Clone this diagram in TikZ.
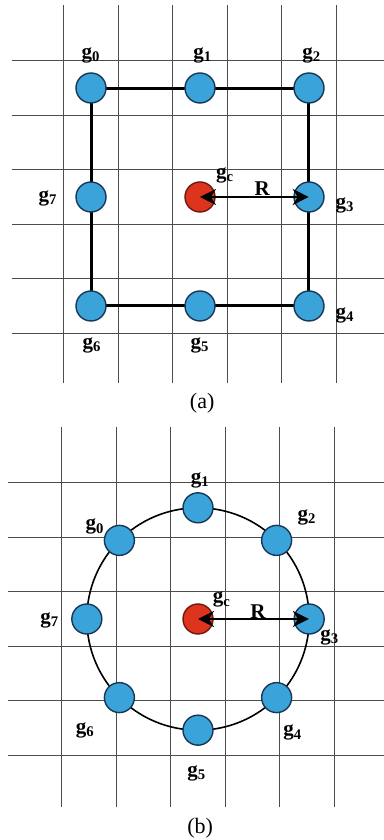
\documentclass[tikz,border=0pt]{standalone}
\usepackage{fontspec}
\setmainfont{Liberation Serif}
\usetikzlibrary{arrows.meta, backgrounds}

\definecolor{gblue}{RGB}{58,163,218}
\definecolor{gblueline}{RGB}{25,55,85}
\definecolor{cred}{RGB}{222,52,30}
\definecolor{credline}{RGB}{110,25,15}

\begin{document}
\begin{tikzpicture}[
    x=0.5pt, y=0.5pt,
    font=\fontsize{10}{12}\selectfont,
    % Node styles
    gpoint/.style={
        circle, draw=gblueline, fill=gblue,
        line width=0.7pt, minimum size=15pt, inner sep=0pt
    },
    cpoint/.style={
        circle, draw=credline, fill=cred,
        line width=0.7pt, minimum size=15pt, inner sep=0pt
    },
    gridline/.style={draw=black!70, line width=0.5pt},
    squareedge/.style={line width=1.3pt},
    ringedge/.style={line width=0.8pt},
    radarrow/.style={
        {Stealth[length=8pt, width=8pt]}-{Stealth[length=8pt, width=8pt]},
        line width=1.4pt
    },
    glbl/.style={font=\fontsize{10.5}{12}\selectfont\bfseries, inner sep=0pt},
    caplbl/.style={font=\fontsize{11}{13}\selectfont, inner sep=0pt},
]

\useasboundingbox (0,0) rectangle (384,840);

%% ---- PANEL (a): square of grid points ----
\begin{scope}[shift={(200,643)}, scale=54.5]
  \node[cpoint] (ac) at (0,0)   {};
  \node[gpoint] (a0) at (-2,2)  {};
  \node[gpoint] (a1) at (0,2)   {};
  \node[gpoint] (a2) at (2,2)   {};
  \node[gpoint] (a3) at (2,0)   {};
  \node[gpoint] (a4) at (2,-2)  {};
  \node[gpoint] (a5) at (0,-2)  {};
  \node[gpoint] (a6) at (-2,-2) {};
  \node[gpoint] (a7) at (-2,0)  {};

  \begin{scope}[on background layer]
    \foreach \k in {-2.5,-1.5,...,2.5} {
      \draw[gridline] (\k,-3.41) -- (\k,3.52);
      \draw[gridline] (-3.45,\k) -- (3.38,\k);
    }
    \draw[squareedge] (a0.center) -- (a1.center) -- (a2.center) -- (a3.center)
        -- (a4.center) -- (a5.center) -- (a6.center) -- (a7.center) -- (a0.center);
  \end{scope}

  % labels
  \node[glbl] (a0lbl) at (-2,2.6)      {g\textsubscript{0}};
  \node[glbl] (a1lbl) at (0.05,2.6)    {g\textsubscript{1}};
  \node[glbl] (a2lbl) at (2.05,2.6)    {g\textsubscript{2}};
  \node[glbl] (a3lbl) at (2.66,-0.15)  {g\textsubscript{3}};
  \node[glbl] (a4lbl) at (2.66,-2.17)  {g\textsubscript{4}};
  \node[glbl] (a5lbl) at (0,-2.72)     {g\textsubscript{5}};
  \node[glbl] (a6lbl) at (-1.98,-2.72) {g\textsubscript{6}};
  \node[glbl] (a7lbl) at (-2.79,-0.02) {g\textsubscript{7}};
  \node[glbl] (aclbl) at (0.46,0.4)    {g\textsubscript{c}};

  % radius
  \draw[radarrow] (ac.center) -- (a3.center);
  \node[glbl] (ar) at (1.14,0.15) {R};

  \node[caplbl] (acap) at (0.04,-3.78) {(a)};
\end{scope}

%% ---- PANEL (b): circle of grid points ----
\begin{scope}[shift={(198,221)}, scale=54.5]
  \node[cpoint] (bc) at (0,0) {};
  \foreach \ang/\k in {135/0, 90/1, 45/2, 0/3, -45/4, -90/5, -135/6, 180/7}
    \node[gpoint] (b\k) at (\ang:2.04) {};

  \begin{scope}[on background layer]
    \foreach \k in {-2.5,-1.5,...,2.5} {
      \draw[gridline] (\k,-3.45) -- (\k,3.52);
      \draw[gridline] (-3.49,\k) -- (3.41,\k);
    }
    \draw[ringedge] (bc.center) circle (2.04);
  \end{scope}

  % labels
  \node[glbl] (b0lbl) at (-1.89,1.69)  {g\textsubscript{0}};
  \node[glbl] (b1lbl) at (0.04,2.55)   {g\textsubscript{1}};
  \node[glbl] (b2lbl) at (2.0,1.87)    {g\textsubscript{2}};
  \node[glbl] (b3lbl) at (2.42,-0.33)  {g\textsubscript{3}};
  \node[glbl] (b4lbl) at (1.74,-2.09)  {g\textsubscript{4}};
  \node[glbl] (b5lbl) at (-0.02,-2.83) {g\textsubscript{5}};
  \node[glbl] (b6lbl) at (-2.07,-2.04) {g\textsubscript{6}};
  \node[glbl] (b7lbl) at (-2.72,-0.02) {g\textsubscript{7}};
  \node[glbl] (bclbl) at (0.44,0.35)   {g\textsubscript{c}};

  % radius
  \draw[radarrow] (bc.center) -- (b3.center);
  \node[glbl] (br) at (1.1,0.13) {R};

  \node[caplbl] (bcap) at (0.04,-3.84) {(b)};
\end{scope}

\end{tikzpicture}
\end{document}
